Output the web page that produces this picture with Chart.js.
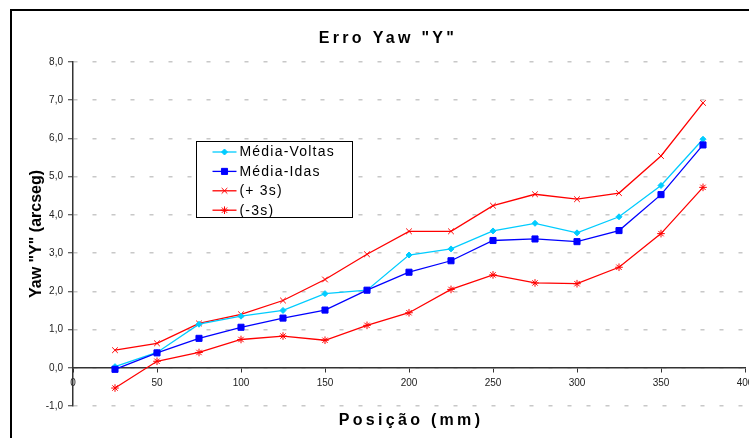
<!DOCTYPE html>
<html>
<head>
<meta charset="utf-8">
<script src="https://cdn.jsdelivr.net/npm/chart.js@4.4.1/dist/chart.umd.min.js"></script>
<style>
  html, body { margin: 0; padding: 0; background: #fff; overflow: hidden; }
  #wrap { position: relative; width: 770px; height: 438px; }
  #frame {
    position: absolute; left: 10px; top: 9px; width: 900px; height: 600px;
    border-left: 2px solid #000; border-top: 2px solid #000; pointer-events: none;
  }
</style>
</head>
<body>
<div id="wrap">
  <canvas id="yawChart" width="770" height="438"></canvas>
  <div id="frame"></div>
</div>
<script>
// --- Data ---
const chartTitle = 'Erro Yaw "Y"';
const xTitle = 'Posição (mm)';
const yTitle = 'Yaw "Y" (arcseg)';

const positions = [25, 50, 75, 100, 125, 150, 175, 200, 225, 250, 275, 300, 325, 350, 375];
const mediaVoltas = [0.03, 0.40, 1.14, 1.35, 1.50, 1.94, 2.03, 2.95, 3.11, 3.58, 3.78, 3.53, 3.95, 4.77, 5.98];
const mediaIdas = [-0.04, 0.39, 0.77, 1.06, 1.30, 1.51, 2.03, 2.50, 2.80, 3.33, 3.37, 3.30, 3.59, 4.53, 5.83];
const mais3s = [0.46, 0.64, 1.16, 1.40, 1.76, 2.31, 2.97, 3.57, 3.57, 4.24, 4.54, 4.41, 4.57, 5.54, 6.93];
const menos3s = [-0.53, 0.17, 0.40, 0.74, 0.83, 0.72, 1.11, 1.44, 2.05, 2.43, 2.22, 2.20, 2.63, 3.51, 4.72];

const seriesLabels = ['Média-Voltas', 'Média-Idas', '(+ 3s)', '(-3s)'];

const FONT = "Arial, 'Liberation Sans', sans-serif";

function toPoints(values) {
    return positions.map((x, i) => ({ x: x, y: values[i] }));
}

function series(label, values, color, style, radius, order) {
    return {
        label: label,
        data: toPoints(values),
        borderColor: color,
        backgroundColor: color,
        borderWidth: 1.3,
        pointStyle: style,
        pointRadius: radius,
        pointBorderWidth: 1,
        pointBackgroundColor: color,
        pointBorderColor: color,
        tension: 0,
        order: order
    };
}

// Boxed legend sitting inside the plot, plus the spaced-out titles
const captions = {
    id: 'captions',
    afterDraw(chart) {
        const { ctx, chartArea } = chart;
        ctx.save();
        ctx.fillStyle = '#000';
        ctx.textAlign = 'center';
        ctx.textBaseline = 'middle';
        ctx.font = 'bold 16px ' + FONT;
        ctx.letterSpacing = '3.3px';
        ctx.fillText(chartTitle, 388, 39);
        ctx.fillText(xTitle, (chartArea.left + chartArea.right) / 2 + 2, 421);
        ctx.restore();

        // legend box
        const box = { left: 196.5, top: 141.5, width: 156, height: 76 };
        ctx.save();
        ctx.fillStyle = '#fff';
        ctx.strokeStyle = '#000';
        ctx.lineWidth = 1;
        ctx.fillRect(box.left, box.top, box.width, box.height);
        ctx.strokeRect(box.left, box.top, box.width, box.height);

        ctx.font = '14px ' + FONT;
        ctx.letterSpacing = '1.2px';
        ctx.textAlign = 'left';
        ctx.textBaseline = 'middle';
        chart.data.datasets.forEach((ds, i) => {
            const y = box.top + 10.5 + i * 19.4;
            ctx.strokeStyle = ds.borderColor;
            ctx.fillStyle = ds.borderColor;
            ctx.lineWidth = 1.3;
            ctx.beginPath();
            ctx.moveTo(box.left + 16, y);
            ctx.lineTo(box.left + 40, y);
            ctx.stroke();
            ctx.lineWidth = 1;
            Chart.helpers.drawPoint(ctx, {
                pointStyle: ds.pointStyle,
                radius: ds.pointRadius,
                rotation: 0,
                borderWidth: 1
            }, box.left + 28, y);
            ctx.fillStyle = '#000';
            ctx.fillText(ds.label, box.left + 43, y + 0.5);
        });
        ctx.restore();
    }
};

const ctx = document.getElementById('yawChart').getContext('2d');

new Chart(ctx, {
    type: 'line',
    data: {
        datasets: [
            series(seriesLabels[0], mediaVoltas, '#00ccff', 'rectRot', 3, 1),
            series(seriesLabels[1], mediaIdas, '#0000ff', 'rect', 4.3, 0),
            series(seriesLabels[2], mais3s, '#ff0000', 'crossRot', 4, 2),
            series(seriesLabels[3], menos3s, '#ff0000', 'star', 3.8, 3)
        ]
    },
    options: {
        responsive: false,
        animation: false,
        layout: { padding: { left: 0, top: 62, right: 25, bottom: 32 } },
        plugins: {
            legend: { display: false },
            title: { display: false },
            tooltip: { enabled: false }
        },
        scales: {
            x: {
                type: 'linear',
                position: { y: 0 },
                min: 0,
                max: 400,
                ticks: {
                    stepSize: 50,
                    padding: 5,
                    color: '#222',
                    font: { family: FONT, size: 10 },
                    maxRotation: 0
                },
                grid: { drawOnChartArea: false, tickLength: 4, color: '#333', tickColor: '#333' },
                border: { color: '#333', width: 1.5 },
                afterFit(scale) { scale.height = 0; }
            },
            y: {
                min: -1,
                max: 8,
                ticks: {
                    stepSize: 1,
                    padding: 5,
                    color: '#222',
                    font: { family: FONT, size: 10 },
                    callback: (v) => v.toFixed(1).replace('.', ',')
                },
                grid: { color: '#c8c8c8', lineWidth: 1.5, tickColor: '#333', tickLength: 5, tickWidth: 1 },
                border: { color: '#333', width: 1.5, dash: [4, 15] },
                title: {
                    display: true,
                    text: yTitle,
                    color: '#000',
                    font: { family: FONT, size: 16, weight: 'bold' },
                    padding: { top: 27, bottom: 0 }
                },
                afterFit(scale) { scale.width = 73; }
            }
        }
    },
    plugins: [captions]
});
</script>
</body>
</html>
